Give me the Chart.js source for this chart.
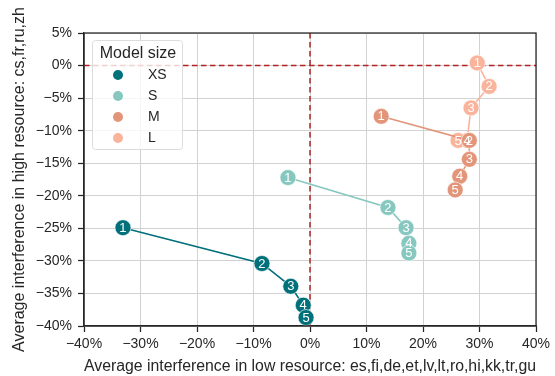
<!DOCTYPE html>
<html><head><meta charset="utf-8">
<script src="https://cdn.jsdelivr.net/npm/chart.js@4.4.1/dist/chart.umd.min.js"></script>
<style>html,body{margin:0;padding:0;background:#fff}#wrap{width:555px;height:376px;position:relative}</style>
</head><body><div id="wrap"><canvas id="c" width="555" height="376"></canvas></div>
<script>
const seriesNames = ["XS", "S", "M", "L"];
const seriesColors = ["#00707a", "#86c8c0", "#e3957a", "#fbb49c"];
const xsLow  = [-33.1, -8.5, -3.4, -1.2, -0.7];
const xsHigh = [-24.9, -30.4, -33.9, -36.8, -38.7];
const sLow   = [-3.9, 13.8, 17.0, 17.5, 17.5];
const sHigh  = [-17.2, -21.8, -24.9, -27.3, -28.8];
const mLow   = [12.6, 28.2, 28.2, 26.5, 25.7];
const mHigh  = [-7.8, -11.5, -14.4, -17.0, -19.1];
const lLow   = [29.6, 31.7, 28.5, 27.8, 26.2];
const lHigh  = [0.4, -3.2, -6.5, -11.5, -11.5];
const pointLabels = ["1", "2", "3", "4", "5"];
const xTicks = [-40, -30, -20, -10, 0, 10, 20, 30, 40];
const yTicks = [5, 0, -5, -10, -15, -20, -25, -30, -35, -40];
const xTitle = "Average interference in low resource: es,fi,de,et,lv,lt,ro,hi,kk,tr,gu";
const yTitle = "Average interference in high resource: cs,fr,ru,zh";
const legendTitle = "Model size";

const lows = [xsLow, sLow, mLow, lLow];
const highs = [xsHigh, sHigh, mHigh, lHigh];
const FONT = "'Liberation Sans', Arial, sans-serif";
const fmt = v => (v < 0 ? "\u2212" + Math.abs(v) : String(v)) + "%";

const datasets = seriesNames.map((n, i) => ({
  label: n,
  data: lows[i].map((x, j) => ({x: x, y: highs[i][j]})),
  showLine: true,
  borderColor: seriesColors[i],
  backgroundColor: seriesColors[i],
  borderWidth: 1.6,
  pointRadius: 8,
  pointHoverRadius: 8,
  pointBackgroundColor: seriesColors[i],
  pointBorderColor: "rgba(255,255,255,0.8)",
  pointBorderWidth: 0.8
}));

const extras = {
  id: "extras",
  beforeDatasetsDraw(chart) {
    const {ctx, chartArea: a, scales: {x, y}} = chart;
    ctx.save();
    ctx.strokeStyle = "#b22222";
    ctx.lineWidth = 1.5;
    ctx.setLineDash([5.5, 3.5]);
    const x0 = x.getPixelForValue(0), y0 = y.getPixelForValue(0);
    ctx.beginPath(); ctx.moveTo(x0, a.top); ctx.lineTo(x0, a.bottom); ctx.stroke();
    ctx.beginPath(); ctx.moveTo(a.left, y0); ctx.lineTo(a.right, y0); ctx.stroke();
    ctx.restore();
  },
  afterDatasetsDraw(chart) {
    const {ctx, chartArea: a} = chart;
    ctx.save();
    ctx.fillStyle = "#fff";
    ctx.font = "13px " + FONT;
    ctx.textAlign = "center";
    ctx.textBaseline = "middle";
    chart.data.datasets.forEach((ds, i) => {
      chart.getDatasetMeta(i).data.forEach((pt, j) => {
        ctx.fillText(pointLabels[j], pt.x, pt.y + 0.5);
      });
    });
    // frame
    ctx.strokeStyle = "#262626";
    ctx.lineWidth = 1.25;
    ctx.strokeRect(a.left, a.top, a.right - a.left, a.bottom - a.top);
    // legend
    const lx = 92, ly = a.top + 7, lw = 90, lh = 109;
    ctx.fillStyle = "rgba(255,255,255,0.8)";
    ctx.strokeStyle = "#dcdcdc";
    ctx.lineWidth = 1;
    ctx.beginPath();
    if (ctx.roundRect) ctx.roundRect(lx + 0.5, ly + 0.5, lw, lh, 3); else ctx.rect(lx + 0.5, ly + 0.5, lw, lh);
    ctx.fill(); ctx.stroke();
    ctx.fillStyle = "#262626";
    ctx.font = "16px " + FONT;
    ctx.textAlign = "center";
    ctx.fillText(legendTitle, lx + lw / 2 + 1, ly + 14);
    ctx.font = "14px " + FONT;
    seriesNames.forEach((n, i) => {
      const yy = ly + 35 + i * 21;
      ctx.fillStyle = seriesColors[i];
      ctx.beginPath(); ctx.arc(lx + 26, yy, 5, 0, Math.PI * 2); ctx.fill();
      ctx.fillStyle = "#262626";
      ctx.textAlign = "left";
      ctx.fillText(n, lx + 56, yy);
    });
    ctx.restore();
  }
};

new Chart(document.getElementById("c"), {
  type: "scatter",
  data: {datasets},
  plugins: [extras],
  options: {
    responsive: false,
    animation: false,
    layout: {padding: {top: 33, right: 19, left: 4, bottom: 0}},
    plugins: {legend: {display: false}, tooltip: {enabled: false}},
    scales: {
      x: {
        min: -40, max: 40,
        afterBuildTicks: s => { s.ticks = xTicks.map(v => ({value: v})); },
        afterFit: s => { s.height = 50; },
        ticks: {callback: v => fmt(v), color: "#262626", font: {size: 14, family: FONT}, padding: 4, maxRotation: 0},
        grid: {color: "#d2d2d2", lineWidth: 1, tickColor: "#262626", tickLength: 6, tickWidth: 1.25},
        border: {color: "#262626", width: 1.25},
        title: {display: true, text: xTitle, color: "#262626", font: {size: 16, family: FONT}, padding: {top: 1, bottom: 0}}
      },
      y: {
        min: -40, max: 5,
        afterBuildTicks: s => { s.ticks = yTicks.map(v => ({value: v})); },
        afterFit: s => { s.width = 80; },
        ticks: {callback: v => fmt(v), color: "#262626", font: {size: 14, family: FONT}, padding: 6},
        grid: {color: "#d2d2d2", lineWidth: 1, tickColor: "#262626", tickLength: 6, tickWidth: 1.25},
        border: {color: "#262626", width: 1.25},
        title: {display: true, text: yTitle, color: "#262626", font: {size: 16, family: FONT}, padding: {top: 6, bottom: 2}}
      }
    }
  }
});
</script></body></html>
